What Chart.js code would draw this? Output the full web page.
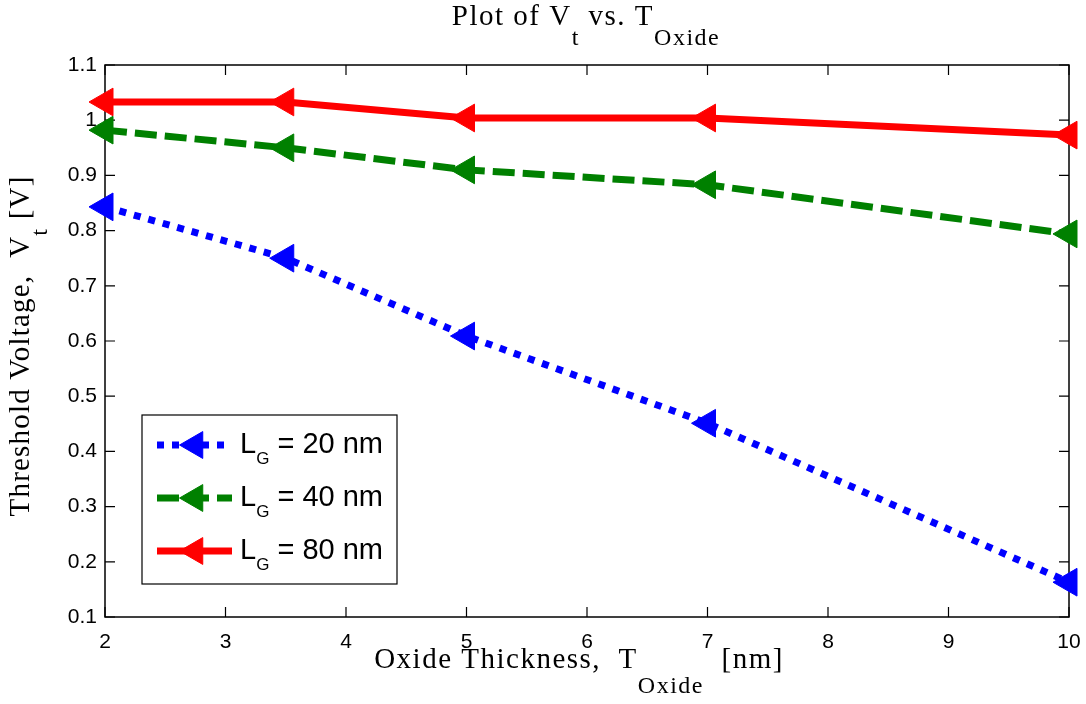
<!DOCTYPE html>
<html>
<head>
<meta charset="utf-8">
<title>Plot of Vt vs. TOxide</title>
<script src="https://cdn.jsdelivr.net/npm/chart.js@4.4.0/dist/chart.umd.min.js"></script>
<style>
  html, body { margin: 0; padding: 0; background: #fff; }
  #wrap { width: 1086px; height: 704px; position: relative; }
</style>
</head>
<body>
<div id="wrap"><canvas id="vtChart"></canvas></div>
<script>
// oxide thickness sweep [nm]
const toxValues = [2, 3.5, 5, 7, 10];
// threshold voltage [V] for each gate length
const vtLg20 = [0.843, 0.75, 0.609, 0.451, 0.163];
const vtLg40 = [0.982, 0.95, 0.91, 0.883, 0.794];
const vtLg80 = [1.033, 1.033, 1.004, 1.004, 0.973];
const gateLengths = ['20 nm', '40 nm', '80 nm'];
// axis ticks
const xTicks = [2, 3, 4, 5, 6, 7, 8, 9, 10];
const yTicks = [0.1, 0.2, 0.3, 0.4, 0.5, 0.6, 0.7, 0.8, 0.9, 1, 1.1];

const SANS = 'Arial, "Liberation Sans", sans-serif';
const SERIF = '"Times New Roman", "Liberation Serif", serif';

function toPoints(ys) {
    return toxValues.map((x, i) => ({ x: x, y: ys[i] }));
}

// draws a run of text pieces (some of them subscripts) one after another
function drawRich(ctx, parts, x, y, align, spacing) {
    ctx.textAlign = 'left';
    ctx.textBaseline = 'alphabetic';
    ctx.letterSpacing = (spacing || 0) + 'px';
    let total = 0;
    parts.forEach(p => {
        ctx.font = p.font;
        p.w = ctx.measureText(p.text).width;
        total += p.w;
    });
    let cx = align === 'center' ? x - total / 2 : x;
    parts.forEach(p => {
        ctx.font = p.font;
        ctx.fillText(p.text, cx, y + (p.dy || 0));
        cx += p.w;
    });
    ctx.letterSpacing = '0px';
}

const styles = [
    { color: '#0000ff', dash: [7, 8] },
    { color: '#008000', dash: [22, 8] },
    { color: '#ff0000', dash: [] }
];

const datasets = [vtLg20, vtLg40, vtLg80].map((ys, i) => ({
    label: 'L_G = ' + gateLengths[i],
    data: toPoints(ys),
    borderColor: styles[i].color,
    backgroundColor: styles[i].color,
    borderWidth: 7,
    borderDash: styles[i].dash,
    borderCapStyle: 'butt',
    tension: 0,
    pointStyle: 'triangle',
    rotation: -90,
    pointRadius: 16,
    pointHoverRadius: 16,
    pointBorderWidth: 1,
    pointBackgroundColor: styles[i].color,
    pointBorderColor: styles[i].color,
    clip: false,
    order: 3 - i
}));

// axes box with inward ticks on all four sides
const boxPlugin = {
    id: 'matlabBox',
    beforeDatasetsDraw(chart) {
        const { ctx, chartArea: a, scales } = chart;
        const tick = 10;
        ctx.save();
        ctx.strokeStyle = '#000';
        ctx.lineWidth = 1.5;
        ctx.strokeRect(a.left, a.top, a.right - a.left, a.bottom - a.top);
        ctx.lineWidth = 1.2;
        ctx.beginPath();
        xTicks.forEach(v => {
            const px = scales.x.getPixelForValue(v);
            ctx.moveTo(px, a.bottom); ctx.lineTo(px, a.bottom - tick);
            ctx.moveTo(px, a.top); ctx.lineTo(px, a.top + tick);
        });
        yTicks.forEach(v => {
            const py = scales.y.getPixelForValue(v);
            ctx.moveTo(a.left, py); ctx.lineTo(a.left + tick, py);
            ctx.moveTo(a.right, py); ctx.lineTo(a.right - tick, py);
        });
        ctx.stroke();
        ctx.restore();
    }
};

// title, axis labels (with subscripts) and the legend box
const labelPlugin = {
    id: 'matlabLabels',
    afterDraw(chart) {
        const { ctx, chartArea: a } = chart;
        const cx = (a.left + a.right) / 2;
        const cy = (a.top + a.bottom) / 2;
        ctx.save();
        ctx.fillStyle = '#000';

        drawRich(ctx, [
            { text: 'Plot of V', font: '29px ' + SERIF },
            { text: 't', font: '24px ' + SERIF, dy: 20 },
            { text: ' vs. T', font: '29px ' + SERIF },
            { text: 'Oxide', font: '24px ' + SERIF, dy: 20 }
        ], cx - 1, 25, 'center', 1.5);

        drawRich(ctx, [
            { text: 'Oxide Thickness,  T', font: '29px ' + SERIF },
            { text: 'Oxide', font: '24px ' + SERIF, dy: 25 },
            { text: '  [nm]', font: '29px ' + SERIF }
        ], cx - 8, 668, 'center', 1.5);

        ctx.save();
        ctx.translate(29, cy + 5);
        ctx.rotate(-Math.PI / 2);
        drawRich(ctx, [
            { text: 'Threshold Voltage,  V', font: '29px ' + SERIF },
            { text: 't', font: '24px ' + SERIF, dy: 18 },
            { text: ' [V]', font: '29px ' + SERIF }
        ], 0, 0, 'center', 1.2);
        ctx.restore();

        // legend
        const lx = 142, ly = 415, lw = 255, lh = 169;
        ctx.fillStyle = '#fff';
        ctx.fillRect(lx, ly, lw, lh);
        ctx.strokeStyle = '#000';
        ctx.lineWidth = 1.2;
        ctx.strokeRect(lx, ly, lw, lh);
        const rowY = [445, 498, 551];
        chart.data.datasets.forEach((ds, i) => {
            const y = rowY[i];
            ctx.save();
            ctx.strokeStyle = ds.borderColor;
            ctx.lineWidth = ds.borderWidth;
            ctx.setLineDash(ds.borderDash);
            ctx.beginPath();
            ctx.moveTo(157, y);
            ctx.lineTo(232, y);
            ctx.stroke();
            ctx.setLineDash([]);
            ctx.fillStyle = ds.pointBackgroundColor;
            ctx.strokeStyle = ds.pointBorderColor;
            ctx.lineWidth = 1;
            Chart.helpers.drawPoint(ctx, {
                pointStyle: 'triangle', rotation: -90, radius: 15.5, borderWidth: 1
            }, 195, y);
            ctx.restore();
            ctx.fillStyle = '#000';
            drawRich(ctx, [
                { text: 'L', font: '29px ' + SANS },
                { text: 'G', font: '17px ' + SANS, dy: 11 },
                { text: ' = ' + gateLengths[i], font: '29px ' + SANS }
            ], 240, y + 8, 'left', 0);
        });
        ctx.restore();
    }
};

const ctx = document.getElementById('vtChart');
const vtChart = new Chart(ctx, {
    type: 'line',
    data: { datasets: datasets },
    options: {
        responsive: true,
        maintainAspectRatio: false,
        animation: false,
        layout: { padding: { top: 65, right: 13, left: 0, bottom: 0 } },
        plugins: {
            legend: { display: false },
            title: { display: false },
            tooltip: { enabled: false }
        },
        scales: {
            x: {
                type: 'linear',
                min: 2,
                max: 10,
                grid: { display: false, drawTicks: false },
                border: { display: false },
                afterBuildTicks: s => { s.ticks = xTicks.map(v => ({ value: v })); },
                afterFit: s => { s.height = 87; s.paddingLeft = 0; s.paddingRight = 0; },
                ticks: {
                    color: '#000',
                    padding: 13,
                    maxRotation: 0,
                    font: { family: SANS, size: 21 },
                    callback: v => String(v)
                }
            },
            y: {
                type: 'linear',
                min: 0.1,
                max: 1.1,
                grid: { display: false, drawTicks: false },
                border: { display: false },
                afterBuildTicks: s => { s.ticks = yTicks.map(v => ({ value: v })); },
                afterFit: s => { s.width = 105; s.paddingTop = 0; s.paddingBottom = 0; },
                ticks: {
                    color: '#000',
                    padding: 8,
                    font: { family: SANS, size: 21 },
                    callback: v => String(+v.toFixed(1))
                }
            }
        }
    },
    plugins: [boxPlugin, labelPlugin]
});
</script>
</body>
</html>
